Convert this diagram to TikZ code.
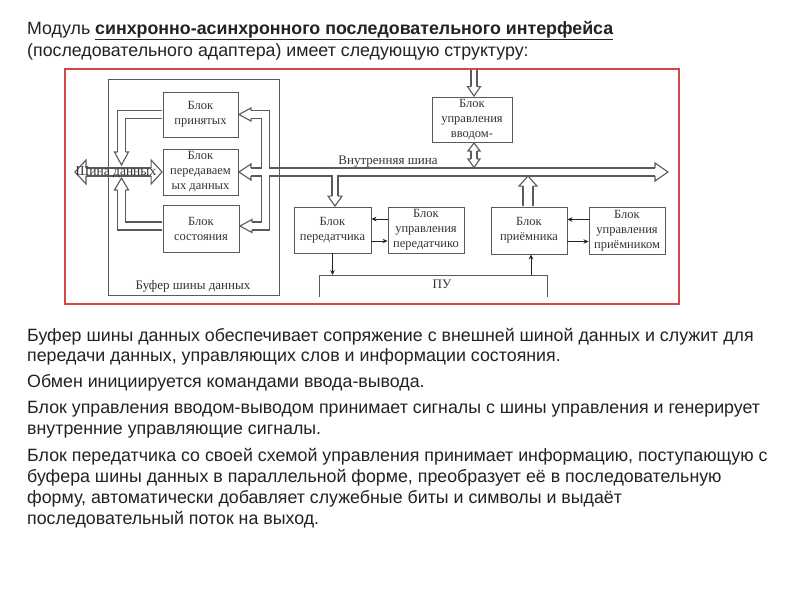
\documentclass[tikz,border=0pt]{standalone}
\usepackage{fontspec}
\setmainfont{Liberation Serif}
\newfontfamily\arialf{Liberation Sans}
\usetikzlibrary{arrows.meta,calc}
\definecolor{lg}{HTML}{5A5A5A}
\definecolor{dtx}{HTML}{333333}
\definecolor{fr}{HTML}{D04848}
\definecolor{bt}{HTML}{222222}
% hollow arrow head: #1 tip, #2 angle, #3 half width, #4 length, #5 shaft half spacing
\newcommand\hhd[5]{%
  \fill[white,shift={#1},rotate=#2] (0,0) -- (-#4,#3) -- (-#4,-#3) -- cycle;
  \draw[lg,line width=1.1pt,line join=miter,shift={#1},rotate=#2]
    (-#4,#5) -- (-#4,#3) -- (0,0) -- (-#4,-#3) -- (-#4,-#5);}
\begin{document}
\begin{tikzpicture}[x=1pt,y=-1pt,
  blk/.style={draw=lg, line width=0.9pt, align=center, text=dtx,
    font=\fontsize{12.5}{15}\selectfont, inner sep=0pt},
  lbl/.style={text=dtx, font=\fontsize{13}{15.5}\selectfont, inner sep=0pt},
  shaftw/.style={lg, line width=1.1pt, double=white, double distance=6.9pt, line join=miter},
  shaftn/.style={lg, line width=1.1pt, double=white, double distance=4.9pt, line join=miter},
  shaftb/.style={lg, line width=1.1pt, double=white, double distance=8.9pt, line join=miter},
  sig/.style={bt, line width=0.9pt, -{Stealth[length=5pt,width=4.5pt]}},
  body/.style={anchor=base west, inner sep=0pt, text=bt, font=\arialf\fontsize{17.8}{20}\selectfont}]
\useasboundingbox (0,0) rectangle (800,600);
\fill[white] (0,0) rectangle (800,600);

% ---- title and text
\node[body] (t1) at (27,34) {Модуль \underline{\textbf{синхронно-асинхронного последовательного интерфейса}}};
\node[body] (t2) at (27,56) {(последовательного адаптера) имеет следующую структуру:};
\node[body] (p1) at (27,341) {Буфер шины данных обеспечивает сопряжение с внешней шиной данных и служит для};
\node[body] (p2) at (27,361) {передачи данных, управляющих слов и информации состояния.};
\node[body] (p3) at (27,387) {Обмен инициируется командами ввода-вывода.};
\node[body] (p4) at (27,413) {Блок управления вводом-выводом принимает сигналы с шины управления и генерирует};
\node[body] (p5) at (27,434) {внутренние управляющие сигналы.};
\node[body] (p6) at (27,461) {Блок передатчика со своей схемой управления принимает информацию, поступающую с};
\node[body] (p7) at (27,482) {буфера шины данных в параллельной форме, преобразует её в последовательную};
\node[body] (p8) at (27,503) {форму, автоматически добавляет служебные биты и символы и выдаёт};
\node[body] (p9) at (27,524) {последовательный поток на выход.};

% ---- frame
\draw[fr, line width=1.6pt] (65,69) rectangle (679,304);

% ---- blocks
\node[blk, minimum width=75pt, minimum height=45pt] (prin) at (200.5,114.5) {Блок\\принятых};
\node[blk, minimum width=75pt, minimum height=46pt] (pered) at (200.5,172) {Блок\\передаваем\\ых данных};
\node[blk, minimum width=76pt, minimum height=47pt] (sost) at (201,228.5) {Блок\\состояния};
\node[blk, minimum width=80pt, minimum height=45pt] (vvod) at (472,119.5) {Блок\\управления\\вводом-};
\node[blk, minimum width=77pt, minimum height=46pt] (tx) at (332.5,230) {Блок\\передатчика};
\node[blk, minimum width=76pt, minimum height=46pt] (txc) at (426,230) {Блок\\управления\\передатчико};
\node[blk, minimum width=76pt, minimum height=47pt] (rx) at (529,230.5) {Блок\\приёмника};
\node[blk, minimum width=76pt, minimum height=47pt] (rxc) at (627,230.5) {Блок\\управления\\приёмником};

% ---- coordinates
\coordinate (dbl) at (75,172);
\coordinate (vbt) at (265.5,114.5);
\coordinate (vbb) at (265.5,226);
\coordinate (ibr) at (668,172);
\coordinate (ftop) at (474,69.8);
\coordinate (pu1) at (319,275);
\coordinate (pu2) at (547,275);
\coordinate (rxs) at ($(rx.south)+(2,0)$);

% ---- data bus (external)
\draw[shaftw] ($(dbl)+(11,0)$) -- ($(pered.west)+(-11.5,0)$);
\hhd{(dbl)}{180}{12}{11}{4}
\hhd{($(pered.west)+(-0.5,0)$)}{0}{12}{11}{4}

% ---- left vertical arrows
\draw[shaftw] ($(prin.west)+(-0.5,0)$) -| (121.5,152);
\hhd{(121.5,165)}{-90}{7}{13}{4}
\draw[shaftw] ($(sost.west)+(-0.5,-2.5)$) -| (121.5,190);
\hhd{(121.5,178)}{90}{7}{12}{4}

% ---- right vertical bus and internal bus
\draw[shaftw] ($(prin.east)+(12.5,0)$) -- (vbt) -- (vbb) -- ($(sost.east)+(12.5,-2.5)$)
   ($(pered.east)+(12.5,0)$) -- ($(ibr)+(-13,0)$);
\hhd{($(prin.east)+(0.5,0)$)}{180}{6.5}{12}{4}
\hhd{($(pered.east)+(0.5,0)$)}{180}{8}{12}{4}
\hhd{($(sost.east)+(0.5,-2.5)$)}{180}{6.5}{12}{4}
\hhd{(ibr)}{0}{9}{13}{4}
\node[lbl] (ib) at (388,162) {Внутренняя шина};

% ---- branch down into transmitter
\draw[shaftn] ($(tx.north)+(2.5,-31.6)$) -- ($(tx.north)+(2.5,-10.5)$);
\hhd{($(tx.north)+(2.5,-0.5)$)}{-90}{7}{10}{3}

% ---- up arrow from receiver
\draw[shaftb] ($(rx.north)+(-1,-0.5)$) -- ($(rx.north)+(-1,-20.5)$);
\hhd{($(rx.north)+(-1,-30.5)$)}{90}{9}{10}{5}

% ---- IO control arrows
\draw[shaftn] (ftop) -- ($(vvod.north)+(2,-10)$);
\hhd{($(vvod.north)+(2,-0.5)$)}{-90}{6.5}{9.5}{3}
\draw[shaftn] ($(vvod.south)+(2,8.5)$) -- ($(vvod.south)+(2,16.5)$);
\hhd{($(vvod.south)+(2,0.5)$)}{90}{6}{8}{3}
\hhd{($(vvod.south)+(2,25)$)}{-90}{6}{8.5}{3}

% ---- buffer frame
\draw[lg, line width=0.8pt] (108,79) rectangle (279,295);
\node[lbl] (buf) at (193,286) {Буфер шины данных};
\node[lbl, font=\fontsize{13.5}{15.5}\selectfont] (db) at (116,172) {Шина данных};

% ---- control signals
\draw[sig] ($(txc.west)+(0,-11)$) -- ($(tx.east)+(0,-11)$);
\draw[sig] ($(tx.east)+(0,11)$) -- ($(txc.west)+(0,11)$);
\draw[sig] ($(rxc.west)+(0,-11)$) -- ($(rx.east)+(0,-11)$);
\draw[sig] ($(rx.east)+(0,11)$) -- ($(rxc.west)+(0,11)$);

% ---- ПУ
\draw[lg, line width=1pt] (319,297) -- (pu1) -- (pu2) -- (547,297);
\node[lbl] (pu) at (442,284) {ПУ};
\draw[sig] (tx.south) -- (tx.south |- pu1);
\draw[sig] (rxs |- pu1) -- (rxs);
\end{tikzpicture}
\end{document}
